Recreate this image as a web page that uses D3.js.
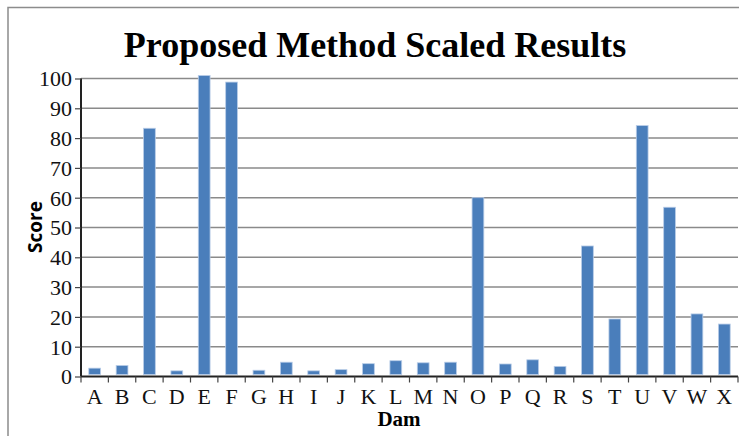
<!DOCTYPE html>
<html>
<head>
<meta charset="utf-8">
<script src="https://cdn.jsdelivr.net/npm/d3@7"></script>
<style>
  html, body { margin: 0; padding: 0; background: #fff; }
  svg { display: block; }
</style>
</head>
<body>
<svg id="chart" width="739" height="436"></svg>
<script>
const categories = ["A","B","C","D","E","F","G","H","I","J","K","L","M","N","O","P","Q","R","S","T","U","V","W","X"];
const scores = [2.8,3.7,83.3,1.9,101,98.8,2.1,4.8,1.9,2.3,4.3,5.3,4.6,4.8,60,4.2,5.6,3.4,43.8,19.3,84.2,56.8,21,17.6];
const yTicks = [0,10,20,30,40,50,60,70,80,90,100];
const titleText = "Proposed Method Scaled Results";
const xTitle = "Dam";
const yTitle = "Score";

const W = 739, H = 436;
const margin = {left: 81, right: 1, top: 78.5, bottom: 59};
const svg = d3.select("#chart");

// outer frame
svg.append("rect").attr("x", 8).attr("y", 7.5).attr("width", W + 10).attr("height", H + 10)
  .attr("fill", "none").attr("stroke", "#8c8c8c").attr("stroke-width", 1.5);

const x = d3.scaleBand().domain(categories).range([margin.left, W - margin.right]).paddingInner(0.57).paddingOuter(0.285);
const xEdges = d3.scaleLinear().domain([0, categories.length]).range([margin.left, W - margin.right]);
const y = d3.scaleLinear().domain([0, 100]).range([H - margin.bottom - 0.5, margin.top]);

// gridlines
svg.append("g").selectAll("line").data(yTicks.filter(d => d > 0)).join("line")
  .attr("x1", margin.left).attr("x2", W - margin.right)
  .attr("y1", d => y(d)).attr("y2", d => y(d))
  .attr("stroke", "#8a8a8a").attr("stroke-width", 1.5);

// bars
svg.append("g").selectAll("rect").data(scores).join("rect")
  .attr("x", (d, i) => x(categories[i]))
  .attr("width", x.bandwidth())
  .attr("y", d => y(d))
  .attr("height", d => y(0) - 2 - y(d))
  .attr("fill", "#4a7ebb")
  .attr("stroke", "#b9cde8").attr("stroke-width", 0.8);

// y axis
const yAxis = d3.axisLeft(y).tickValues(yTicks).tickSize(6).tickPadding(3).tickFormat(d3.format("d"));
const gy = svg.append("g").attr("transform", `translate(${margin.left},0)`).call(yAxis);
gy.select(".domain").attr("stroke", "#222").attr("stroke-width", 2).attr("d", `M0,${y(0)}V${y(100)}`);
gy.selectAll(".tick line").attr("stroke", "#444").attr("stroke-width", 1.2);
gy.selectAll(".tick text").attr("font-family", "Liberation Serif, 'Times New Roman', serif")
  .attr("font-size", 22).attr("fill", "#111").attr("dy", "0.34em");

// x axis
const xAxisLine = svg.append("g").attr("transform", `translate(0,${y(0)})`);
xAxisLine.append("line").attr("x1", margin.left).attr("x2", W - margin.right)
  .attr("y1", 0).attr("y2", 0).attr("stroke", "#222").attr("stroke-width", 2);
xAxisLine.selectAll("line.tk").data(d3.range(categories.length + 1)).join("line").attr("class", "tk")
  .attr("x1", d => xEdges(d)).attr("x2", d => xEdges(d))
  .attr("y1", 0).attr("y2", 6).attr("stroke", "#444").attr("stroke-width", 1.2);
xAxisLine.selectAll("text").data(categories).join("text")
  .attr("x", d => x(d) + x.bandwidth() / 2).attr("y", 27.5)
  .attr("text-anchor", "middle")
  .attr("font-family", "Liberation Serif, 'Times New Roman', serif")
  .attr("font-size", 22).attr("fill", "#111").text(d => d);

// title
svg.append("text").attr("x", 375).attr("y", 57).attr("text-anchor", "middle")
  .attr("font-family", "Liberation Serif, 'Times New Roman', serif")
  .attr("font-weight", "bold").attr("font-size", 36).attr("fill", "#000").text(titleText);

// x title
svg.append("text").attr("x", 399).attr("y", 426).attr("text-anchor", "middle")
  .attr("font-family", "Liberation Serif, 'Times New Roman', serif")
  .attr("font-weight", "bold").attr("font-size", 21).attr("fill", "#000").text(xTitle);

// y title
svg.append("text").attr("transform", "translate(42,227) rotate(-90)").attr("text-anchor", "middle")
  .attr("font-family", "'Open Sans', 'Liberation Sans', sans-serif")
  .attr("font-weight", "bold").attr("font-size", 19).attr("fill", "#000").text(yTitle);
</script>
</body>
</html>
